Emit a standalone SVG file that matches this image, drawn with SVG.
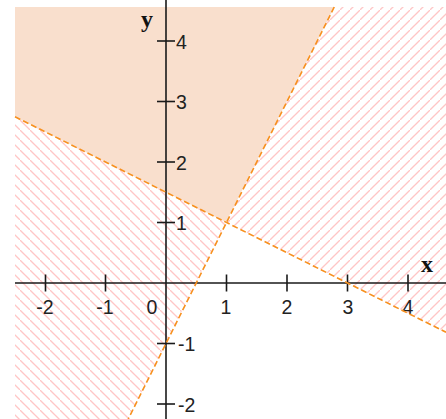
<svg xmlns="http://www.w3.org/2000/svg" width="446" height="419" viewBox="0 0 446 419">
  <style>
    .axis { stroke: #1a1a1a; stroke-width: 1.6; fill: none; }
    .tick { stroke: #1a1a1a; stroke-width: 1.6; }
    .bound { stroke: #f7901e; stroke-width: 1.6; fill: none; stroke-dasharray: 6 3; }
    .num { font-family: "Liberation Sans", Arial, sans-serif; font-size: 19.5px; fill: #222; }
    .var { font-family: "Liberation Serif", "Times New Roman", serif; font-size: 24px; font-weight: bold; fill: #111; }
  </style>
  <defs>
    <pattern id="hatchBack" patternUnits="userSpaceOnUse" width="10" height="10">
      <path d="M-1,-1 L11,11" stroke="#ffc6c6" stroke-width="1.3"/>
    </pattern>
    <pattern id="hatchFwd" patternUnits="userSpaceOnUse" width="10" height="10">
      <path d="M-1,11 L11,-1" stroke="#ffc6c6" stroke-width="1.3"/>
    </pattern>
  </defs>
  <rect x="0" y="0" width="446" height="419" fill="#ffffff"/>
  <g id="regions">
    <polygon id="feasible" points="15,7 334.25,7 226,222.25 15,116.75" fill="#f9dfcd"/>
    <polygon id="hatch-left" points="15,116.75 226,222.25 128.25,419 15,419" fill="url(#hatchBack)"/>
    <polygon id="hatch-right" points="334.25,7 446,7 446,332.25 226,222.25" fill="url(#hatchFwd)"/>
  </g>
  <g id="axes">
    <line class="axis" x1="15" y1="283" x2="446" y2="283"/>
    <line class="axis" x1="166" y1="0" x2="166" y2="419"/>
    <g id="x-ticks">
      <line class="tick" x1="45.5" y1="274.5" x2="45.5" y2="291.5"/>
      <line class="tick" x1="105.5" y1="274.5" x2="105.5" y2="291.5"/>
      <line class="tick" x1="226.5" y1="274.5" x2="226.5" y2="291.5"/>
      <line class="tick" x1="287" y1="274.5" x2="287" y2="291.5"/>
      <line class="tick" x1="347.5" y1="274.5" x2="347.5" y2="291.5"/>
      <line class="tick" x1="408" y1="274.5" x2="408" y2="291.5"/>
    </g>
    <g id="y-ticks">
      <line class="tick" x1="157" y1="41" x2="175" y2="41"/>
      <line class="tick" x1="157" y1="101.5" x2="175" y2="101.5"/>
      <line class="tick" x1="157" y1="162" x2="175" y2="162"/>
      <line class="tick" x1="157" y1="222.5" x2="175" y2="222.5"/>
      <line class="tick" x1="157" y1="343.5" x2="175" y2="343.5"/>
      <line class="tick" x1="157" y1="404" x2="175" y2="404"/>
    </g>
    <g id="x-labels" text-anchor="middle">
      <text class="num" x="45" y="314">-2</text>
      <text class="num" x="105" y="314">-1</text>
      <text class="num" x="152" y="314">0</text>
      <text class="num" x="226" y="314">1</text>
      <text class="num" x="287" y="314">2</text>
      <text class="num" x="348" y="314">3</text>
      <text class="num" x="408" y="314">4</text>
    </g>
    <g id="y-labels">
      <text class="num" x="176" y="48.5">4</text>
      <text class="num" x="176" y="109">3</text>
      <text class="num" x="176" y="169.5">2</text>
      <text class="num" x="176" y="230">1</text>
      <text class="num" x="178" y="351">-1</text>
      <text class="num" x="178" y="411.5">-2</text>
    </g>
    <text class="var" x="141" y="27">y</text>
    <text class="var" x="421" y="272">x</text>
  </g>
  <g id="boundaries">
    <line class="bound" x1="15" y1="116.75" x2="446" y2="332.25"/>
    <line class="bound" x1="334.25" y1="7" x2="128.25" y2="419"/>
  </g>
</svg>
